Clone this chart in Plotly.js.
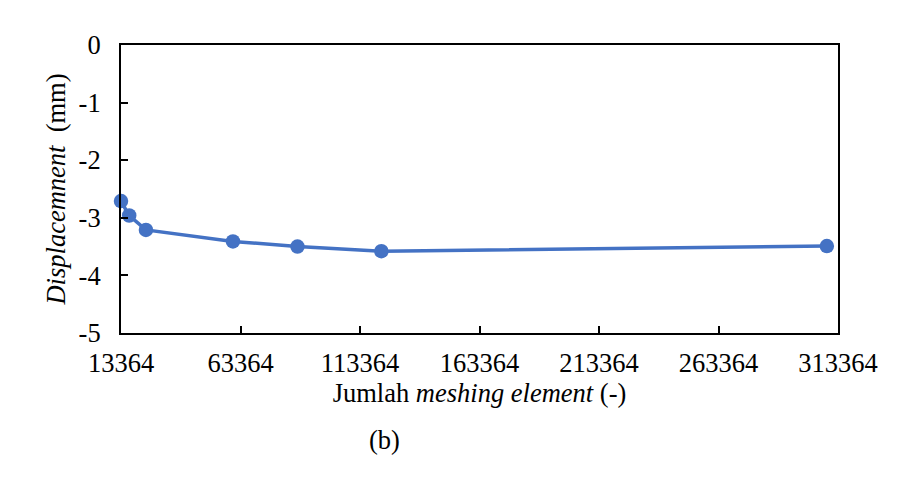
<!DOCTYPE html>
<html>
<head>
<meta charset="utf-8">
<script src="https://cdn.plot.ly/plotly-3.0.1.min.js"></script>
<style>html,body{margin:0;padding:0;background:#fff;}#chart{width:912px;height:494px;}</style>
</head>
<body>
<div id="chart"></div>
<script>
const elements = [13364, 16800, 23800, 60200, 87200, 122300, 308700];
const displacement = [-2.71, -2.96, -3.21, -3.41, -3.50, -3.58, -3.49];
const xTicks = [13364, 63364, 113364, 163364, 213364, 263364, 313364];
const yTicks = [0, -1, -2, -3, -4, -5];

const FAM = 'Liberation Serif, Times New Roman, serif';
function f(size) { return {family: FAM, size: size, color: '#000'}; }
const FS = 26.5;

Plotly.newPlot('chart', [{
  x: elements,
  y: displacement,
  type: 'scatter',
  mode: 'lines+markers',
  line: {color: '#4472C4', width: 3.5},
  marker: {color: '#4472C4', size: 14.5},
  cliponaxis: false
}], {
  width: 912, height: 494,
  margin: {l: 121, r: 74, t: 45, b: 161},
  paper_bgcolor: '#fff', plot_bgcolor: '#fff',
  showlegend: false,
  font: f(FS),
  xaxis: {
    range: [13364, 313364],
    tickvals: xTicks,
    ticktext: xTicks.map(String),
    ticks: 'inside', ticklen: 7, tickwidth: 2, tickcolor: '#000',
    showline: true, linecolor: '#000', linewidth: 2, mirror: true,
    showgrid: false, zeroline: false,
    tickfont: f(FS),
    ticklabelstandoff: 5,
    title: {text: 'Jumlah <i>meshing element</i> (-)', font: f(FS), standoff: 0}
  },
  yaxis: {
    range: [-5, 0],
    tickvals: yTicks,
    ticktext: yTicks.map(String),
    ticks: 'inside', ticklen: 7, tickwidth: 2, tickcolor: '#000',
    showline: true, linecolor: '#000', linewidth: 2, mirror: true,
    showgrid: false, zeroline: false,
    tickfont: f(FS),
    ticklabelstandoff: 13,
    title: {text: '<i>Displacemnent</i>  (mm)', font: f(FS), standoff: 5}
  },
  annotations: [{
    text: '(b)', xref: 'paper', yref: 'paper', x: 0.368, y: -0.372,
    showarrow: false, font: f(FS), xanchor: 'center', yanchor: 'middle'
  }]
}, {displayModeBar: false, staticPlot: true});
</script>
</body>
</html>
